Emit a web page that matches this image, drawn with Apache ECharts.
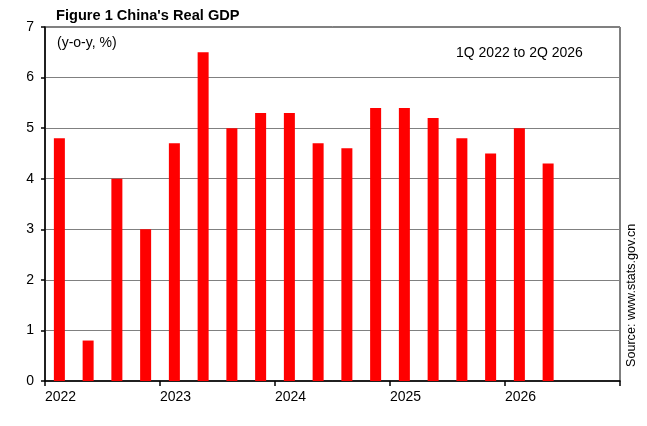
<!DOCTYPE html>
<html>
<head>
<meta charset="utf-8">
<script src="https://cdn.jsdelivr.net/npm/echarts@6/dist/echarts.min.js"></script>
<style>
  html, body { margin: 0; padding: 0; background: #fff; }
  #chart { width: 647px; height: 426px; }
</style>
</head>
<body>
<div id="chart"></div>
<script>
// quarters 1Q2022 .. 4Q2026 (last two are empty)
var quarters = [
  '1Q22', '2Q22', '3Q22', '4Q22',
  '1Q23', '2Q23', '3Q23', '4Q23',
  '1Q24', '2Q24', '3Q24', '4Q24',
  '1Q25', '2Q25', '3Q25', '4Q25',
  '1Q26', '2Q26', '3Q26', '4Q26'
];
// real GDP y-o-y growth, %
var gdpGrowth = [
  4.8, 0.8, 4.0, 3.0,
  4.7, 6.5, 5.0, 5.3,
  5.3, 4.7, 4.6, 5.4,
  5.4, 5.2, 4.8, 4.5,
  5.0, 4.3
];
var yearLabels = ['2022', '2023', '2024', '2025', '2026'];

var font = 'Arial, "Liberation Sans", sans-serif';

var chart = echarts.init(document.getElementById('chart'));
var option = {
  animation: false,
  backgroundColor: '#fff',
  grid: {
    left: 45, right: 27, top: 27, bottom: 45,
    show: true, borderColor: '#000', borderWidth: 1
  },
  xAxis: [{
    type: 'category',
    data: quarters,
    show: false
  }, {
    // year ticks and labels, one year = 4 quarters
    type: 'value',
    position: 'bottom',
    min: 0,
    max: quarters.length,
    interval: 4,
    axisLine: { show: true, lineStyle: { color: '#000', width: 1.5 } },
    axisTick: { show: true, length: 5, lineStyle: { color: '#000', width: 1.5 } },
    splitLine: { show: false },
    axisLabel: {
      align: 'left',
      margin: 9,
      color: '#000',
      fontSize: 14,
      fontFamily: font,
      showMaxLabel: true,
      formatter: function(v) {
        return yearLabels[v / 4] || '';
      }
    }
  }],
  yAxis: {
    type: 'value',
    min: 0,
    max: 7,
    interval: 1,
    axisLine: { show: true, lineStyle: { color: '#000', width: 1.5 } },
    axisTick: { show: true, length: 4, lineStyle: { color: '#000', width: 1.5 } },
    splitLine: { show: true, lineStyle: { color: '#808080', width: 1.2 } },
    axisLabel: { color: '#000', fontSize: 14, fontFamily: font, margin: 11 }
  },
  series: [{
    type: 'bar',
    xAxisIndex: 0,
    data: gdpGrowth,
    barWidth: 11,
    itemStyle: { color: '#ff0000' }
  }],
  graphic: [{
    type: 'text', left: 56, top: 8,
    style: { text: "Figure 1 China's Real GDP", font: 'bold 14.6px ' + font, fill: '#000' }
  }, {
    type: 'text', left: 57, top: 36,
    style: { text: '(y-o-y, %)', font: '14px ' + font, fill: '#000' }
  }, {
    type: 'text', left: 456, top: 46,
    style: { text: '1Q 2022 to 2Q 2026', font: '14px ' + font, fill: '#000' }
  }, {
    type: 'text', x: 625, y: 367, rotation: Math.PI / 2,
    style: { text: 'Source: www.stats.gov.cn', font: '12.6px ' + font, fill: '#000', verticalAlign: 'top' }
  }]
};
chart.setOption(option);
</script>
</body>
</html>
